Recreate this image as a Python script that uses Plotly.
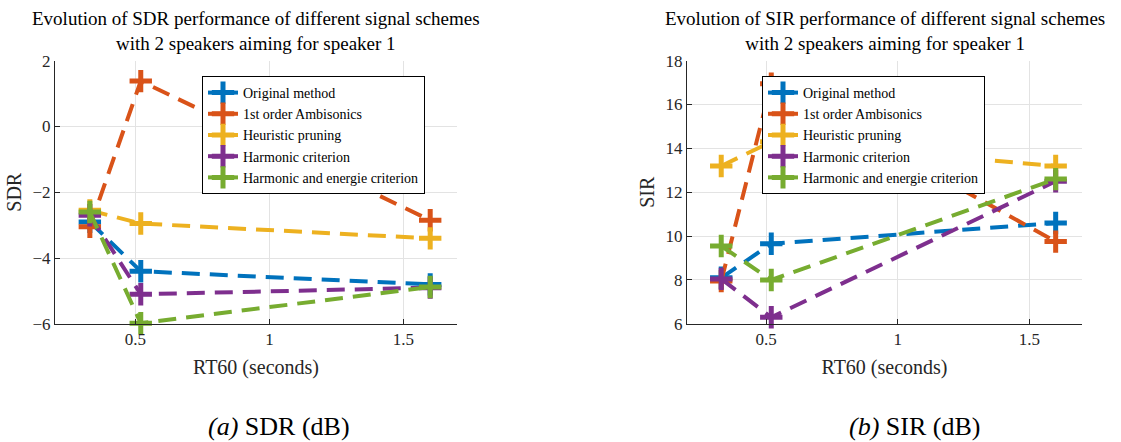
import plotly.graph_objects as go

# RT60 values (seconds) at which each scheme was evaluated
rt60 = [0.33, 0.52, 1.6]

series_names = [
    "Original method",
    "1st order Ambisonics",
    "Heuristic pruning",
    "Harmonic criterion",
    "Harmonic and energie criterion",
]

# SDR (dB) per scheme
sdr_original = [-2.9, -4.4, -4.8]
sdr_ambisonics = [-3.05, 1.38, -2.85]
sdr_heuristic = [-2.55, -2.95, -3.4]
sdr_harmonic = [-2.7, -5.1, -4.9]
sdr_harm_energy = [-2.6, -5.98, -4.88]

# SIR (dB) per scheme
sir_original = [8.1, 9.65, 10.6]
sir_ambisonics = [7.95, 16.95, 9.75]
sir_heuristic = [13.2, 14.3, 13.2]
sir_harmonic = [8.05, 6.3, 12.5]
sir_harm_energy = [9.55, 8.0, 12.6]

sdr_series = [sdr_original, sdr_ambisonics, sdr_heuristic, sdr_harmonic, sdr_harm_energy]
sir_series = [sir_original, sir_ambisonics, sir_heuristic, sir_harmonic, sir_harm_energy]

colors = ["#0072BD", "#D95319", "#EDB120", "#7E2F8E", "#77AC30"]

SERIF = "Liberation Serif"
INK = "#262626"
W, H = 1121, 442

fig = go.Figure()


def add_panel(series, xref, yref, legend_id):
    for name, vals, col in zip(series_names, series, colors):
        fig.add_trace(go.Scatter(
            x=rt60, y=vals, mode="lines+markers", name=name,
            xaxis=xref, yaxis=yref, showlegend=False,
            line=dict(color=col, width=4, dash="18px,10px"),
            marker=dict(symbol="cross-thin", size=16, color=col,
                        line=dict(color=col, width=5)),
            cliponaxis=False,
        ))
    # solid legend samples
    for name, col in zip(series_names, colors):
        fig.add_trace(go.Scatter(
            x=[None], y=[None], mode="lines+markers", name=name,
            xaxis=xref, yaxis=yref, legend=legend_id,
            line=dict(color=col, width=4),
            marker=dict(symbol="cross-thin", size=16, color=col,
                        line=dict(color=col, width=5)),
        ))


add_panel(sdr_series, "x", "y", "legend")
add_panel(sir_series, "x2", "y2", "legend2")

y_top, y_bot = 1 - 54 / H, 1 - 329 / H
dom1 = [55 / W, 457 / W]
dom2 = [687 / W, 1082 / W]

axis_common = dict(
    range=[0.2, 1.7], tickvals=[0.5, 1, 1.5], ticktext=["0.5", "1", "1.5"],
    showgrid=True, gridcolor="#e3e3e3", gridwidth=1,
    showline=True, linecolor=INK, linewidth=1,
    ticks="inside", ticklen=5, tickcolor=INK,
    tickfont=dict(family=SERIF, size=17, color=INK),
    zeroline=False,
    title=dict(text="RT60 (seconds)", font=dict(family=SERIF, size=20, color=INK), standoff=11),
)

yaxis_common = dict(
    domain=[y_bot, y_top],
    showgrid=True, gridcolor="#e3e3e3", showline=True, linecolor=INK, linewidth=1,
    ticks="inside", ticklen=5, tickcolor=INK, zeroline=False,
    tickfont=dict(family=SERIF, size=17, color=INK),
)

legend_common = dict(
    y=1 - 70 / H, xanchor="left", yanchor="top",
    bgcolor="white", bordercolor="black", borderwidth=1,
    font=dict(family=SERIF, size=14, color="black"), tracegroupgap=0,
)

fig.update_layout(
    width=W, height=H,
    margin=dict(l=0, r=0, t=0, b=0),
    paper_bgcolor="white", plot_bgcolor="white",
    xaxis=dict(domain=dom1, anchor="y", **axis_common),
    xaxis2=dict(domain=dom2, anchor="y2", **axis_common),
    yaxis=dict(
        anchor="x", range=[-6, 2], tickvals=[-6, -4, -2, 0, 2], **yaxis_common,
        title=dict(text="SDR", font=dict(family=SERIF, size=20, color=INK), standoff=5),
    ),
    yaxis2=dict(
        anchor="x2", range=[6, 18], tickvals=[6, 8, 10, 12, 14, 16, 18], **yaxis_common,
        title=dict(text="SIR", font=dict(family=SERIF, size=20, color=INK), standoff=5),
    ),
    legend=dict(x=202 / W, **legend_common),
    legend2=dict(x=762 / W, **legend_common),
)

titles = [
    ("Evolution of SDR performance of different signal schemes<br>with 2 speakers aiming for speaker 1", (dom1[0] + dom1[1]) / 2),
    ("Evolution of SIR performance of different signal schemes<br>with 2 speakers aiming for speaker 1", (dom2[0] + dom2[1]) / 2),
]
for text, xc in titles:
    fig.add_annotation(
        text=text, x=xc, y=1 + 3 / H, xref="paper", yref="paper",
        xanchor="center", yanchor="top", showarrow=False, align="center",
        font=dict(family=SERIF, size=19, color="black"),
    )

captions = [("<i>(a)</i> SDR (dB)", 279 / W), ("<i>(b)</i> SIR (dB)", 914 / W)]
for text, xc in captions:
    fig.add_annotation(
        text=text, x=xc, y=1 - 436 / H, xref="paper", yref="paper",
        xanchor="center", yanchor="middle", showarrow=False,
        font=dict(family=SERIF, size=26, color="black"),
    )

fig.write_html("out.html")
